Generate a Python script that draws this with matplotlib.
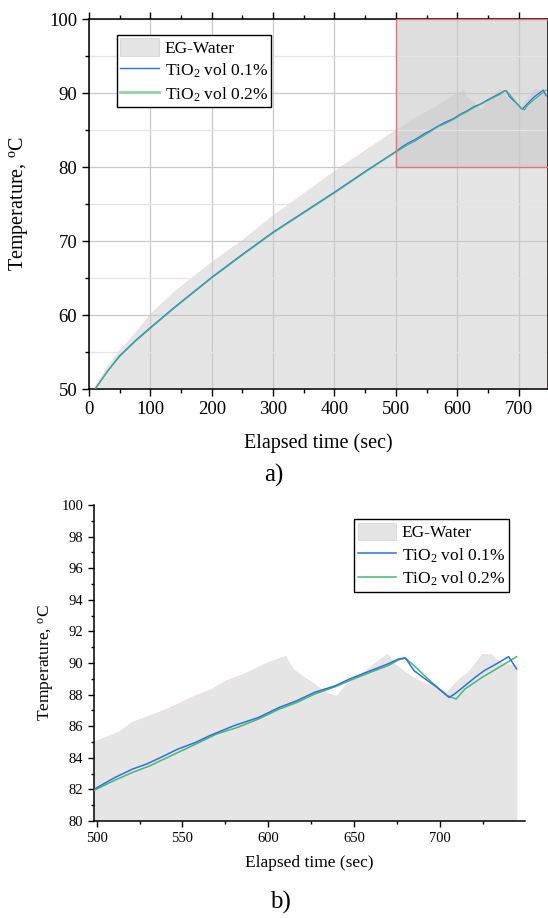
import numpy as np
import matplotlib
matplotlib.use("Agg")
import matplotlib.pyplot as plt
from matplotlib.patches import Rectangle, Patch
from matplotlib.lines import Line2D
from matplotlib.ticker import MultipleLocator

plt.rcParams['font.family'] = ['Liberation Serif', 'DejaVu Serif']
plt.rcParams['mathtext.fontset'] = 'custom'
plt.rcParams['mathtext.rm'] = 'Liberation Serif'
plt.rcParams['mathtext.it'] = 'Liberation Serif:italic'

# EG-Water (base fluid)
eg_t = [6, 30, 50, 75, 100, 140, 200, 250, 300, 350, 400, 450, 498.5,
        512.7, 520.8, 531, 541.2, 549.4, 557.6, 565.7, 575.9, 586, 594.3, 600.4,
        610.2, 614.7, 620.8, 627, 632, 636, 640.2, 644.3, 651.4, 659.6, 665.7,
        669.8, 673.9, 680, 686.1, 692.2, 698.4, 704.5, 710.6, 716.7, 720.8,
        724.9, 730, 735.1, 740, 745]
eg_T = [50.0, 53.1, 55.3, 57.6, 60.2, 63.3, 67.2, 70.2, 73.5, 76.5, 79.5, 82.3, 85.0,
        85.6, 86.24, 86.66, 87.08, 87.5, 87.93, 88.25, 88.88, 89.3, 89.73, 90.04,
        90.42, 89.6, 89.1, 88.67, 88.25, 88.03, 87.89, 88.46, 89.1, 89.73, 90.25,
        90.55, 89.94, 89.4, 88.98, 88.67, 88.41, 88.14, 88.88, 89.4, 89.94,
        90.53, 90.53, 90.04, 89.9, 89.8]

# TiO2 vol 0.1%
t1_t = [10, 30, 50, 75, 100, 140, 200, 250, 300, 350, 400, 450, 498.5,
        510.6, 520.8, 529, 537, 547.3, 557.6, 565.7, 580, 594.3, 606.5, 616.7,
        627, 639.2, 647.3, 659.6, 669.8, 675.9, 680, 685.1, 690.2, 698.4,
        705.5, 708.6, 714.7, 720.8, 725.9, 733, 740.2, 744.9]
t1_T = [50.0, 52.4, 54.5, 56.5, 58.3, 61.1, 65.1, 68.2, 71.2, 73.9, 76.6, 79.4, 82.01,
        82.75, 83.28, 83.6, 84.0, 84.55, 84.97, 85.39, 86.03, 86.55, 87.19, 87.61,
        88.14, 88.56, 88.98, 89.51, 89.94, 90.25, 90.32, 89.51, 89.1, 88.46,
        87.82, 88.03, 88.56, 89.1, 89.51, 89.94, 90.4, 89.62]

# TiO2 vol 0.2%
t2_t = [10, 30, 50, 75, 100, 140, 200, 250, 300, 350, 400, 450, 498.5,
        510.6, 520.8, 531, 545.3, 557.6, 569.8, 582, 594.3, 606.5, 616.7,
        627, 639.2, 647.3, 659.6, 669.8, 675.9, 680, 686.1, 694.3, 704.5,
        709.6, 714.7, 724.9, 733, 744.9]
t2_T = [50.0, 52.35, 54.4, 56.4, 58.2, 61.0, 65.0, 68.1, 71.1, 73.8, 76.5, 79.3, 81.94,
        82.58, 83.07, 83.49, 84.23, 84.86, 85.5, 85.92, 86.45, 87.08, 87.5,
        88.03, 88.5, 88.88, 89.41, 89.83, 90.19, 90.32, 89.73, 88.88, 87.93,
        87.72, 88.35, 89.1, 89.62, 90.4]

labels = ['EG-Water', 'TiO$_2$ vol 0.1%', 'TiO$_2$ vol 0.2%']
fill_color = '#e5e5e5'
fill_edge = '#f3dede'
blue = '#2a72e0'
green = '#45b872'

fig = plt.figure(figsize=(5.48, 9.18), dpi=100)

# ---------------- panel a ----------------
ax1 = fig.add_axes([89 / 548, 529 / 918, 459 / 548, 370 / 918])
ax1.fill_between(eg_t, 50, eg_T, facecolor=fill_color, edgecolor=fill_edge, lw=0.6, zorder=1)
ax1.plot(t1_t, t1_T, color=blue, lw=0.9, zorder=3)
ax1.plot(t2_t, t2_T, color='#3fb08a', lw=0.9, zorder=3)
ax1.set_xlim(0, 748)
ax1.set_ylim(50, 100)
ax1.xaxis.set_major_locator(MultipleLocator(100))
ax1.xaxis.set_minor_locator(MultipleLocator(50))
ax1.yaxis.set_major_locator(MultipleLocator(10))
ax1.yaxis.set_minor_locator(MultipleLocator(5))
ax1.grid(which='major', color='#c9c9c9', lw=0.9)
ax1.yaxis.grid(which='minor', color='#e4e4e4', lw=0.9)
ax1.tick_params(which='both', direction='out', top=True, right=True, labelsize=13.5,
                width=1, colors='black')
ax1.tick_params(which='major', length=5)
ax1.tick_params(which='minor', length=3)
for s in ax1.spines.values():
    s.set_linewidth(1.1)

# zoom region box
ax1.add_patch(Rectangle((500, 80), 260, 20, facecolor='#c8c8c8', alpha=0.6,
                        edgecolor='none', zorder=1.2))
ax1.add_patch(Rectangle((500, 80), 260, 20, facecolor='none', edgecolor='#e87575',
                        lw=1.0, zorder=4, clip_on=True))

ax1.set_xlabel('Elapsed time (sec)', fontsize=14.5)
ax1.xaxis.set_label_coords(0.5, -0.147)
ax1.xaxis.label.set_va('center')
ax1.set_ylabel('Temperature, $^{\\rm o}$C', fontsize=14.5)
ax1.yaxis.label.set_va('center')
ax1.yaxis.set_label_coords((19 - 89) / 459, 0.5)

h = [Patch(facecolor=fill_color, edgecolor='#d6d6d6', lw=0.6),
     Line2D([], [], color=blue, lw=1.0),
     Line2D([], [], color='#8fd6a8', lw=2.0)]
leg1 = ax1.legend(h, labels, loc='upper left', bbox_to_anchor=(0.061, 0.958),
                  borderaxespad=0, fontsize=12.5, fancybox=False, framealpha=1,
                  edgecolor='black', handlelength=2.2, handleheight=1.2,
                  labelspacing=0.25, handletextpad=0.35, borderpad=0.2)
leg1.get_frame().set_linewidth(1.0)

fig.text(274 / 548, 1 - 475 / 918, 'a)', ha='center', va='center', fontsize=18)

# ---------------- panel b ----------------
ax2 = fig.add_axes([94.4 / 548, 97 / 918, 430.5 / 548, 316 / 918])
ax2.fill_between(eg_t, 50, eg_T, facecolor=fill_color, edgecolor=fill_edge, lw=0.6, zorder=1)
ax2.plot(t1_t, t1_T, color=blue, lw=1.1, zorder=3)
ax2.plot(t2_t, t2_T, color=green, lw=1.1, zorder=2.9)
ax2.set_xlim(498.7, 749.7)
ax2.set_ylim(80, 100)
ax2.xaxis.set_major_locator(MultipleLocator(50))
ax2.xaxis.set_minor_locator(MultipleLocator(25))
ax2.yaxis.set_major_locator(MultipleLocator(2))
ax2.yaxis.set_minor_locator(MultipleLocator(1))
ax2.spines['top'].set_visible(False)
ax2.spines['right'].set_visible(False)
for s in ('left', 'bottom'):
    ax2.spines[s].set_linewidth(1.1)
ax2.tick_params(which='both', direction='out', labelsize=10.5, width=1)
ax2.tick_params(which='major', length=4.5)
ax2.tick_params(which='minor', length=2.5)

ax2.set_xlabel('Elapsed time (sec)', fontsize=12.5)
ax2.xaxis.label.set_va('center')
ax2.xaxis.set_label_coords(0.5, -(863 - 821) / 316)
ax2.set_ylabel('Temperature, $^{\\rm o}$C', fontsize=12.5)
ax2.yaxis.label.set_va('center')
ax2.yaxis.set_label_coords((47 - 94.4) / 430.5, 0.5)

h2 = [Patch(facecolor=fill_color, edgecolor='#d6d6d6', lw=0.6),
      Line2D([], [], color=blue, lw=1.1),
      Line2D([], [], color=green, lw=1.1)]
leg2 = ax2.legend(h2, labels, loc='upper right', bbox_to_anchor=(0.962, 0.955),
                  borderaxespad=0, fontsize=12.5, fancybox=False, framealpha=1,
                  edgecolor='black', handlelength=2.2, handleheight=1.2,
                  labelspacing=0.25, handletextpad=0.35, borderpad=0.2)
leg2.get_frame().set_linewidth(1.0)

fig.text(280 / 548, 1 - 902 / 918, 'b)', ha='center', va='center', fontsize=18)

fig.savefig('out.png', dpi=100)
